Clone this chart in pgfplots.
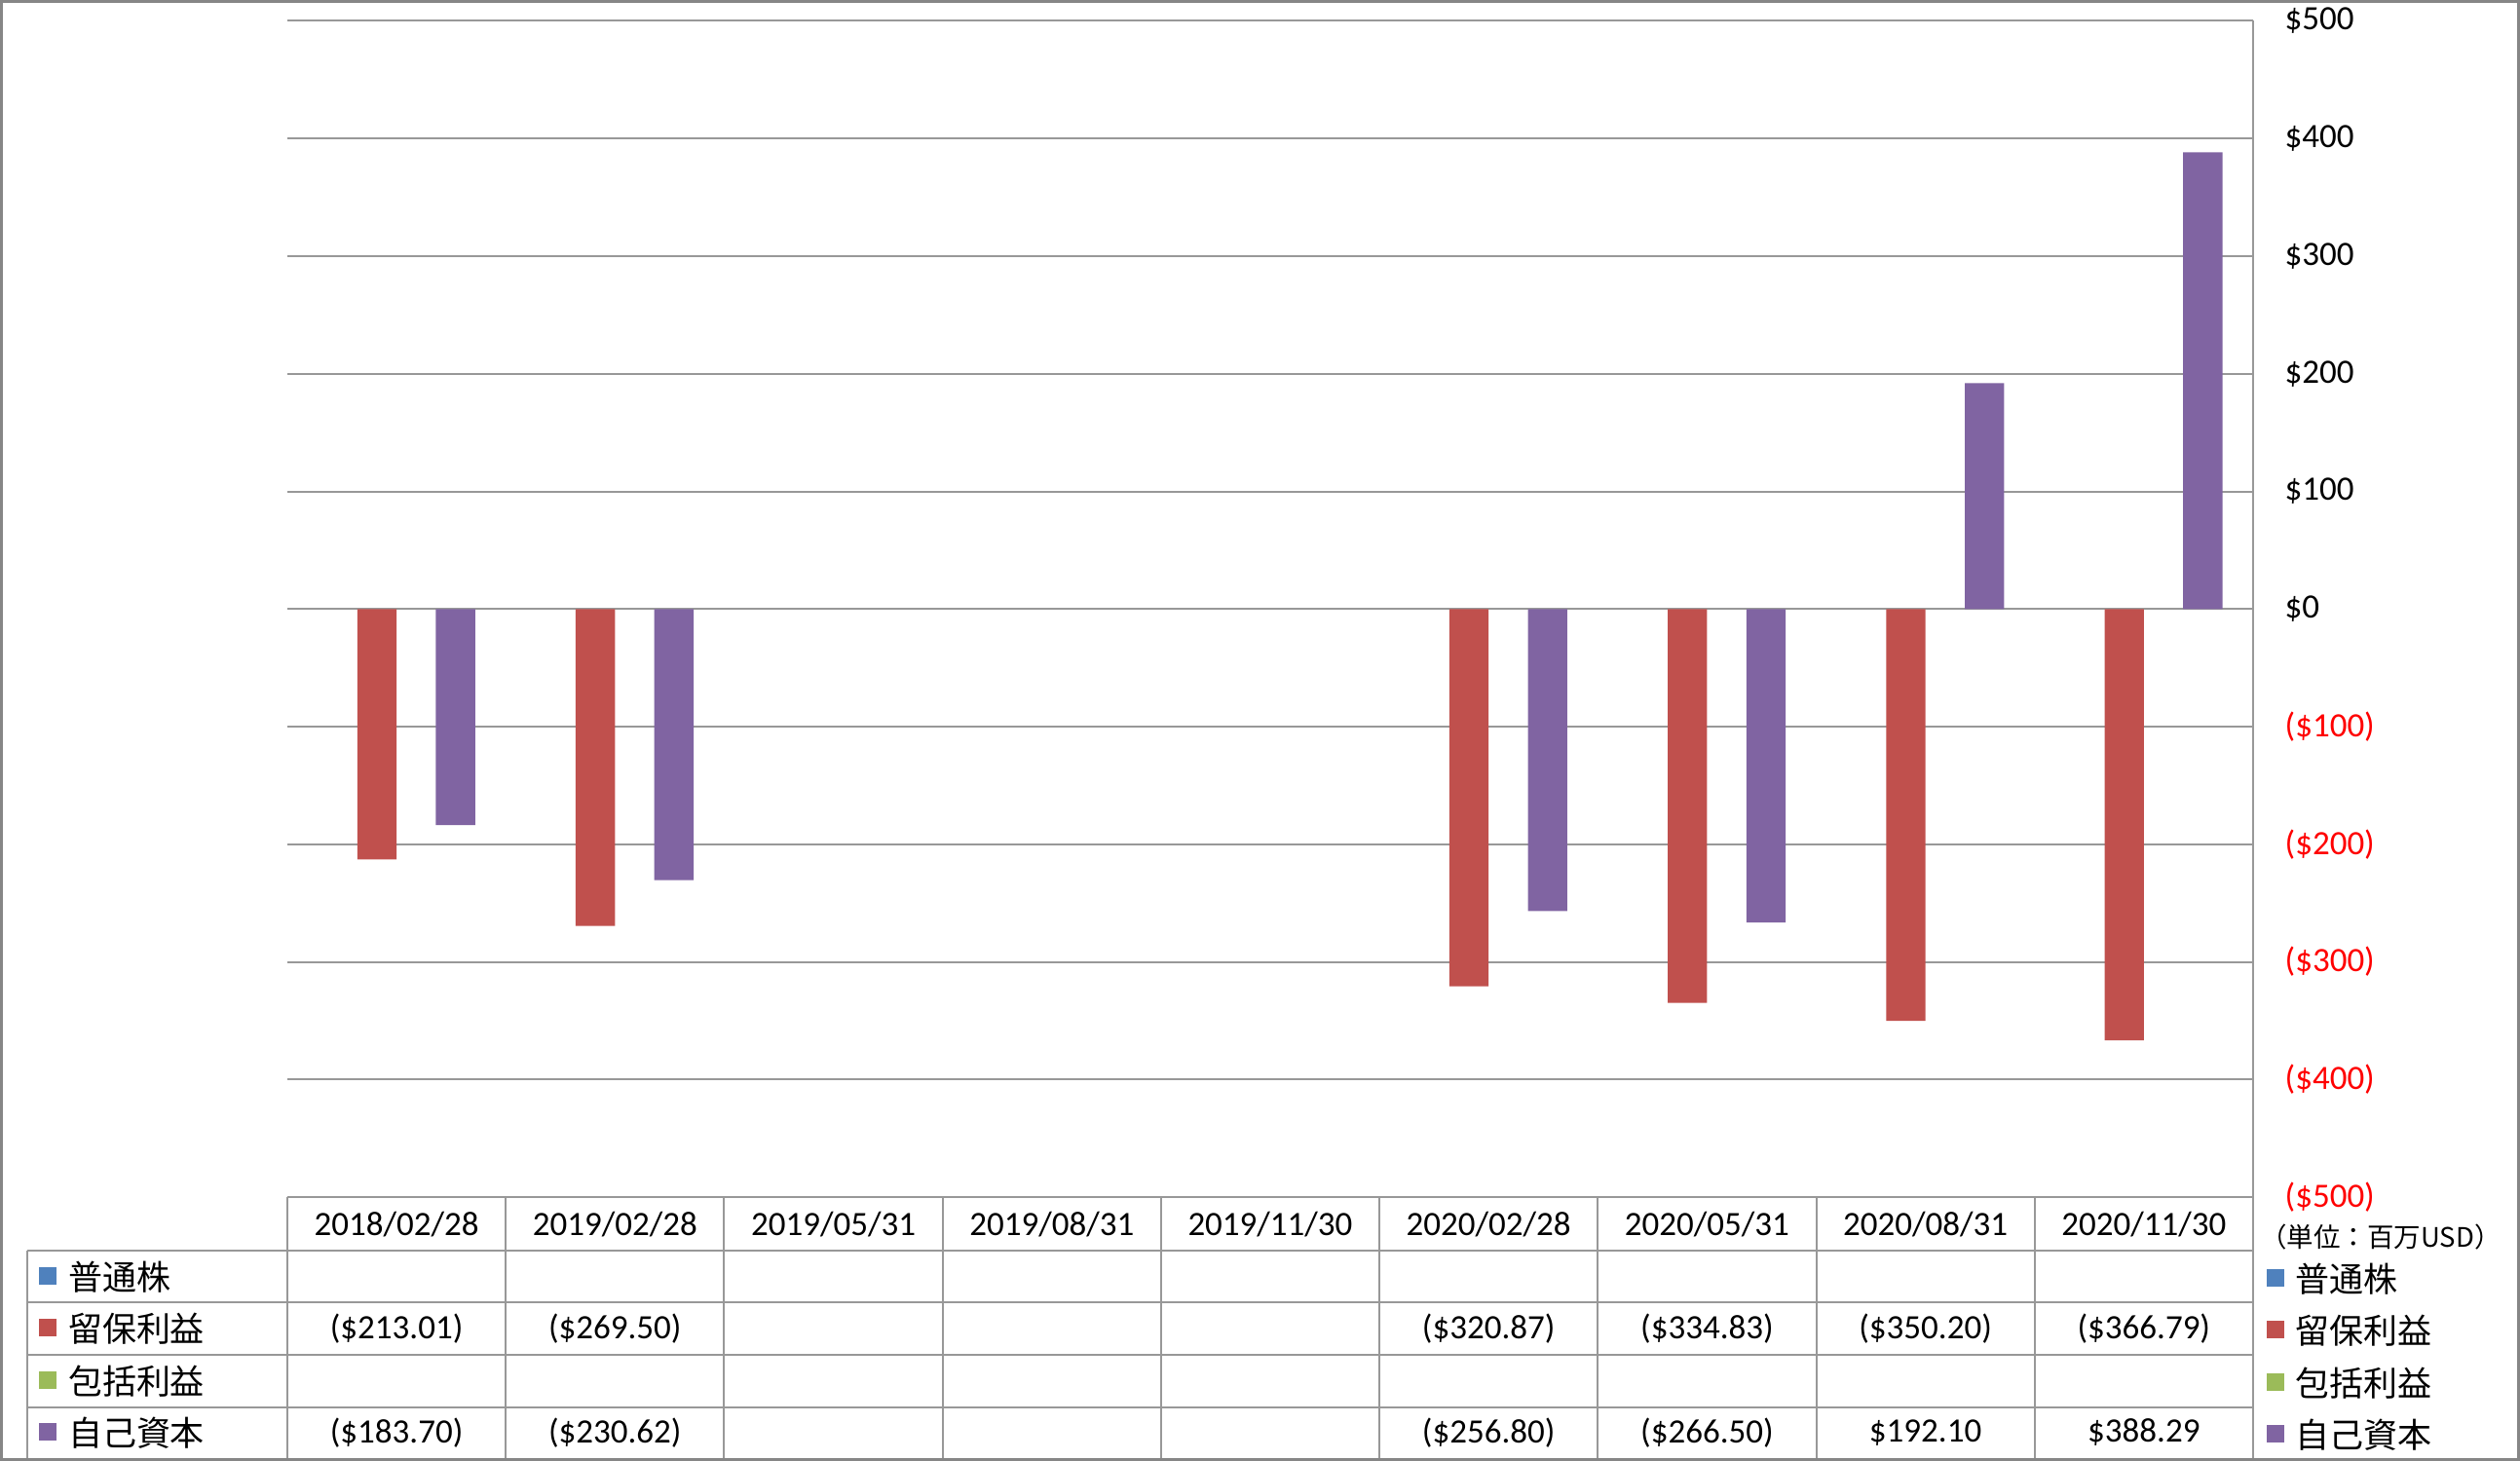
\documentclass[border=0pt]{standalone}
\usepackage{pgfplots}
\pgfplotsset{compat=1.18}
\usepackage{fontspec}
\setmainfont{Carlito}
\newfontfamily\jp{Noto Sans CJK JP}
\definecolor{sBlue}{HTML}{4F81BD}
\definecolor{sRed}{HTML}{C0504D}
\definecolor{sGreen}{HTML}{9BBB59}
\definecolor{sPurple}{HTML}{8064A2}
\definecolor{linegray}{HTML}{989898}
\definecolor{framegray}{HTML}{868686}
\newcommand{\tf}{\fontsize{7}{8}\selectfont}

\begin{document}
\begin{tikzpicture}
\useasboundingbox (0pt,0pt) rectangle (517.4pt,-300pt);

\begin{axis}[
  at={(59pt,-245.8pt)}, anchor=south west,
  scale only axis, width=403.6pt, height=241.5pt,
  xmin=-0.5, xmax=8.5, ymin=-500, ymax=500,
  axis x line=none, axis y line*=right,
  axis line style={linegray, line width=0.4pt},
  ytick={-500,-400,...,500},
  yticklabels={\textcolor{red}{(\$500)},\textcolor{red}{(\$400)},\textcolor{red}{(\$300)},
    \textcolor{red}{(\$200)},\textcolor{red}{(\$100)},\$0,\$100,\$200,\$300,\$400,\$500},
  yticklabel style={font=\tf, anchor=west, xshift=3pt},
  major tick length=0pt,
  ymajorgrids, grid style={linegray, line width=0.4pt},
  clip=false,
]
% 留保利益
\addplot[ybar, bar width=0.18, bar shift=-0.09, fill=sRed, draw=none]
  coordinates {(0,-213.01) (1,-269.50) (5,-320.87) (6,-334.83) (7,-350.20) (8,-366.79)};
% 自己資本
\addplot[ybar, bar width=0.18, bar shift=0.27, fill=sPurple, draw=none]
  coordinates {(0,-183.70) (1,-230.62) (5,-256.80) (6,-266.50) (7,192.10) (8,388.29)};
\end{axis}

\begin{scope}[x=0.2pt,y=-0.2pt]
  % data table grid
  \foreach \k in {0,...,9}
    \draw[linegray, line width=0.4pt] ({295+\k*224.22},1229) -- ({295+\k*224.22},1498);
  \foreach \yy in {1284,1337.5,1391,1445,1498}
    \draw[linegray, line width=0.4pt] (28,\yy) -- (2313,\yy);
  \draw[linegray, line width=0.4pt] (28,1284) -- (28,1498);
  % header dates
  \foreach \d [count=\i from 0] in {2018/02/28,2019/02/28,2019/05/31,2019/08/31,2019/11/30,2020/02/28,2020/05/31,2020/08/31,2020/11/30}
    \node[font=\tf] at ({295+(\i+0.5)*224.22},1257) {\d};
  % row labels
  \foreach \c/\t [count=\i from 0] in {sBlue/普通株,sRed/留保利益,sGreen/包括利益,sPurple/自己資本} {
    \fill[\c] (40,{1301+\i*53.5}) rectangle (58,{1319+\i*53.5});
    \node[anchor=west, font=\tf\jp, inner sep=0pt] at (69,{1311+\i*53.5}) {\t};
    \fill[\c] (2327,{1303+\i*53.5}) rectangle (2345,{1321+\i*53.5});
    \node[anchor=west, font=\tf\jp, inner sep=0pt] at (2356,{1313+\i*53.5}) {\t};
  }
  % values
  \foreach \k/\v in {0/(\$213.01),1/(\$269.50),5/(\$320.87),6/(\$334.83),7/(\$350.20),8/(\$366.79)}
    \node[font=\tf] at ({295+(\k+0.5)*224.22},1364) {\v};
  \foreach \k/\v in {0/(\$183.70),1/(\$230.62),5/(\$256.80),6/(\$266.50),7/\$192.10,8/\$388.29}
    \node[font=\tf] at ({295+(\k+0.5)*224.22},1471) {\v};
  % unit note
  \node[font=\fontsize{5.5}{6.5}\selectfont\jp, inner sep=0pt] at (2444,1270) {（単位：百万USD）};
  % frame
  \draw[framegray, line width=0.7pt] (1,1) rectangle (2586,1499);
\end{scope}
\end{tikzpicture}
\end{document}
